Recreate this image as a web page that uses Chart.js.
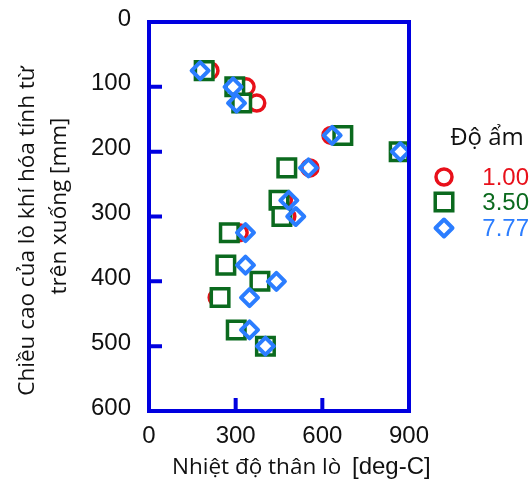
<!DOCTYPE html>
<html><head><meta charset="utf-8">
<script src="https://cdn.jsdelivr.net/npm/chart.js@4.4.1/dist/chart.umd.min.js"></script>
<style>html,body{margin:0;padding:0;background:#fff}canvas{display:block}</style>
</head><body>
<canvas id="c" width="532" height="482"></canvas>
<script>
// ---- data ----
const depthMm   = [75, 100, 125, 175, 200, 225, 275, 300, 325, 375, 400, 425, 475, 500];
const temp100   = [211, 336, 373, 630, 866, 557, 465, 477, 312, 266, 384, 236, 302, 403];
const temp350   = [191, 297, 321, 671, 866, 477, 450, 460, 278, 266, 384, 246, 302, 403];
const temp777   = [177, 291, 303, 634, 870, 552, 484, 508, 334, 334, 441, 348, 348, 403];
const xTicks    = [0, 300, 600, 900];
const yTicks    = [0, 100, 200, 300, 400, 500, 600];
const seriesLabels = ['1.00', '3.50', '7.77'];
const legendTitle  = 'Độ ẩm';
const xTitle = ['Nhiệt độ thân lò', '[deg-C]'];
const yTitle = ['Chiều cao của lò khí hóa tính từ', 'trên xuống [mm]'];

const RED = '#e8101a', GREEN = '#0b6a1e', BLUE = '#2b7dff', FRAME = '#0000e0';
const styles = [
  {color: RED,   style: 'circle',  radius: 8,    width: 3.5, fill: 'rgba(0,0,0,0)'},
  {color: GREEN, style: 'rect',    radius: 12.4, width: 3.5, fill: '#ffffff'},
  {color: BLUE,  style: 'rectRot', radius: 8.5,  width: 4,   fill: 'rgba(0,0,0,0)'}
];
const seriesValues = [temp100, temp350, temp777];

function pts(xs) { return xs.map((x, i) => ({x: x, y: depthMm[i]})); }

const datasets = seriesValues.map((vals, k) => ({
  label: seriesLabels[k],
  data: pts(vals),
  pointStyle: styles[k].style,
  pointRadius: styles[k].radius,
  pointHoverRadius: styles[k].radius,
  pointBorderWidth: styles[k].width,
  pointBorderColor: styles[k].color,
  pointBackgroundColor: styles[k].fill,
  borderColor: styles[k].color,
  showLine: false,
  clip: false,
  order: 3 - k
}));

function drawMarker(ctx, s, x, y) {
  ctx.save();
  ctx.strokeStyle = s.color;
  ctx.lineWidth = s.width;
  ctx.beginPath();
  if (s.style === 'circle') {
    ctx.arc(x, y, s.radius, 0, Math.PI * 2);
  } else if (s.style === 'rect') {
    const h = s.radius * Math.SQRT1_2;
    ctx.rect(x - h, y - h, 2 * h, 2 * h);
  } else {
    ctx.lineJoin = 'round';
    ctx.moveTo(x, y - s.radius); ctx.lineTo(x + s.radius, y);
    ctx.lineTo(x, y + s.radius); ctx.lineTo(x - s.radius, y); ctx.closePath();
  }
  ctx.stroke();
  ctx.restore();
}

const decor = {
  id: 'decor',
  beforeDatasetDraw(chart, args) {
    chart.ctx.lineJoin = (args.index === 2) ? 'round' : 'miter';
  },
  afterDraw(chart) {
    const ctx = chart.ctx, a = chart.chartArea;
    const xs = chart.scales.x, ys = chart.scales.y;
    ctx.save();
    ctx.lineJoin = 'miter';
    ctx.strokeStyle = FRAME;
    ctx.lineWidth = 4;
    ctx.strokeRect(a.left, a.top, a.right - a.left, a.bottom - a.top);
    ctx.beginPath();
    yTicks.slice(1, -1).forEach(v => {
      const p = ys.getPixelForValue(v);
      ctx.moveTo(a.left, p); ctx.lineTo(a.left + 13, p);
    });
    xTicks.slice(1, -1).forEach(v => {
      const p = xs.getPixelForValue(v);
      ctx.moveTo(p, a.bottom); ctx.lineTo(p, a.bottom - 13);
    });
    ctx.stroke();

    // axis titles
    ctx.fillStyle = '#111';
    ctx.textBaseline = 'alphabetic';
    ctx.font = '22.5px "Open Sans"';
    ctx.textAlign = 'left';
    ctx.fillText(xTitle[0], 172, 474);
    ctx.font = '24px "Liberation Sans"';
    ctx.fillText(xTitle[1], 352, 474);

    ctx.font = '22.5px "Open Sans"';
    ctx.textAlign = 'center';
    ctx.save(); ctx.translate(34, 231); ctx.rotate(-Math.PI / 2);
    ctx.fillText(yTitle[0], 0, 0); ctx.restore();
    ctx.save(); ctx.translate(66, 206); ctx.rotate(-Math.PI / 2);
    ctx.fillText(yTitle[1], 0, 0); ctx.restore();

    // legend
    ctx.font = '24px "Open Sans"';
    ctx.textAlign = 'center';
    ctx.fillText(legendTitle, 487, 145);
    const rows = [177, 202, 228];
    ctx.font = '24px "Liberation Sans"';
    ctx.textAlign = 'right';
    ctx.textBaseline = 'middle';
    styles.forEach((s, k) => {
      drawMarker(ctx, s, 444, rows[k]);
      ctx.fillStyle = s.color;
      ctx.fillText(seriesLabels[k], 529, rows[k] + 1);
    });
    ctx.restore();
  }
};

new Chart(document.getElementById('c'), {
  type: 'scatter',
  data: {datasets: datasets},
  options: {
    responsive: false,
    animation: false,
    events: [],
    layout: {padding: {left: 0, top: 22, right: 123, bottom: 0}},
    plugins: {legend: {display: false}, tooltip: {enabled: false}},
    scales: {
      x: {
        type: 'linear', min: 0, max: 900,
        afterFit: s => { s.height = 71; },
        afterBuildTicks: s => { s.ticks = xTicks.map(v => ({value: v})); },
        grid: {display: true, drawOnChartArea: false, drawTicks: true, tickLength: 11, color: 'rgba(0,0,0,0)'},
        border: {display: false},
        ticks: {font: {family: 'Liberation Sans', size: 24}, color: '#111', padding: 0, maxRotation: 0}
      },
      y: {
        type: 'linear', min: 0, max: 600, reverse: true,
        afterFit: s => { s.width = 149; },
        afterBuildTicks: s => { s.ticks = yTicks.map(v => ({value: v})); },
        grid: {display: true, drawOnChartArea: false, drawTicks: true, tickLength: 18, color: 'rgba(0,0,0,0)'},
        border: {display: false},
        ticks: {font: {family: 'Liberation Sans', size: 24}, color: '#111', padding: 0, labelOffset: -3}
      }
    }
  },
  plugins: [decor]
});
</script>
</body></html>
